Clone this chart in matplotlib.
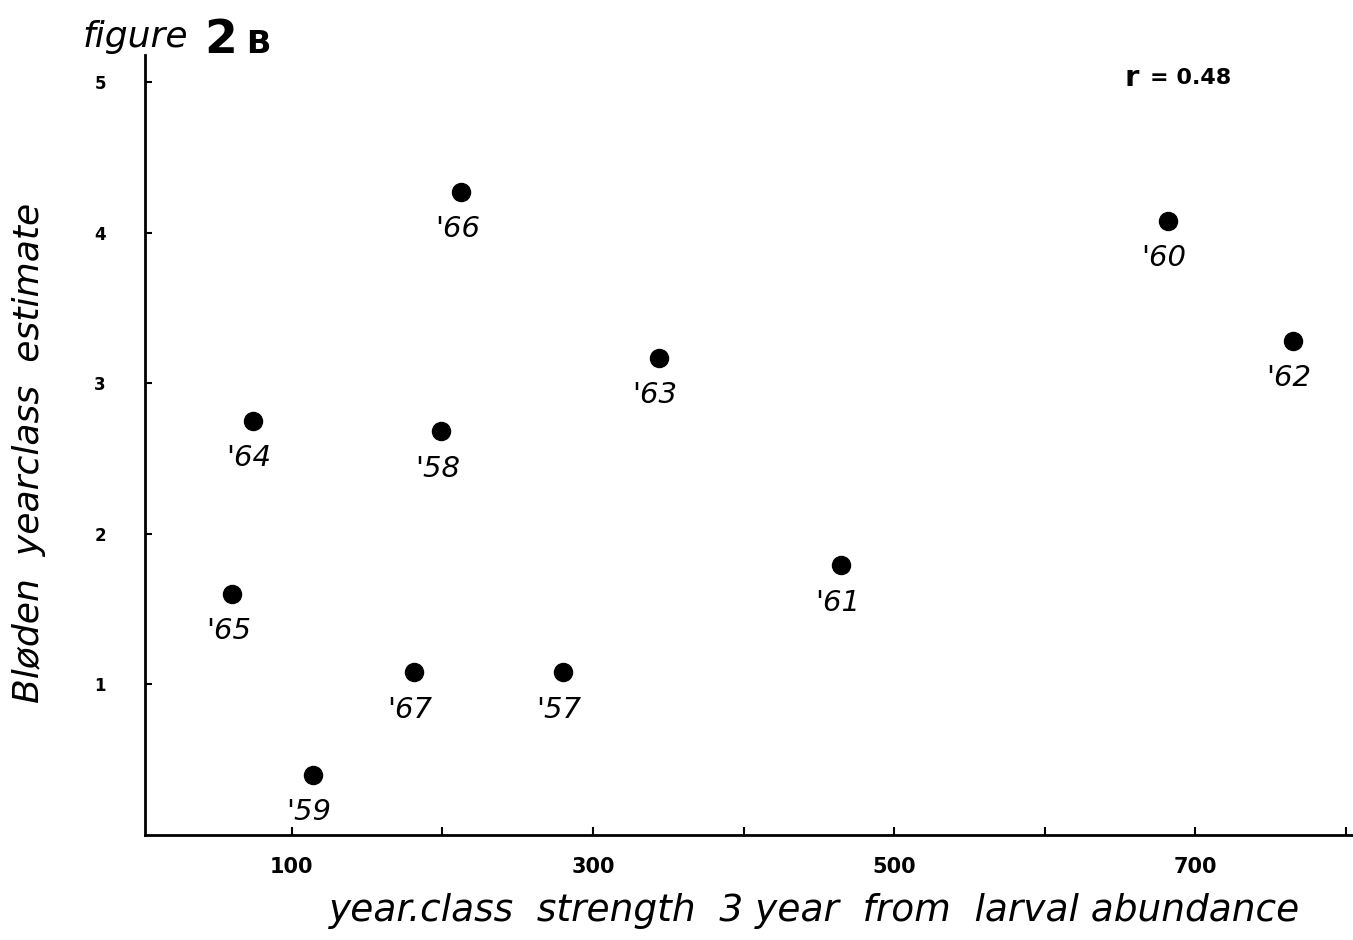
import matplotlib
matplotlib.use("Agg")
import matplotlib.pyplot as plt

# ---- data ----
years = ["'66", "'64", "'58", "'65", "'67", "'57", "'59", "'63", "'61", "'60", "'62"]
larval_strength = [212.7, 74.3, 199.4, 60.6, 181.0, 280.1, 114.1, 343.9, 465.0, 681.9, 764.9]
bloden_estimate = [4.27, 2.75, 2.68, 1.60, 1.08, 1.08, 0.40, 3.17, 1.79, 4.08, 3.28]
x_ticks = [100, 200, 300, 400, 500, 600, 700, 800]
x_ticklabels = ["100", "", "300", "", "500", "", "700", ""]
y_ticks = [1, 2, 3, 4, 5]
y_ticklabels = ["1", "2", "3", "4", "5"]

hand = ["DejaVu Sans"]

fig = plt.figure(figsize=(13.53, 9.4), dpi=100)
ax = fig.add_axes([0.107, 0.112, 0.892, 0.8295])

ax.plot(larval_strength, bloden_estimate, 'o', color='black', markersize=13, clip_on=False)
for xv, yv, lab in zip(larval_strength, bloden_estimate, years):
    ax.annotate(lab, (xv, yv), xytext=(-3, -27), textcoords='offset points',
                ha='center', va='center', fontsize=21, style='italic', family=hand)

ax.set_xlim(2.4, 803.8)
ax.set_ylim(0, 5.18)
for s in ['top', 'right']:
    ax.spines[s].set_visible(False)
for s in ['left', 'bottom']:
    ax.spines[s].set_linewidth(2.0)

ax.set_xticks(x_ticks)
ax.set_xticklabels(x_ticklabels, fontsize=15, fontweight='bold')
ax.set_yticks(y_ticks)
ax.set_yticklabels(y_ticklabels, fontsize=12, fontweight='bold')
ax.tick_params(axis='x', direction='in', length=6, width=1.5, pad=16)
ax.tick_params(axis='y', direction='in', length=5, width=1.5, pad=28)

ax.set_xlabel("year.class  strength  3 year  from  larval abundance",
              fontsize=27, style='italic', family=hand)
ax.xaxis.set_label_coords(0.555, -0.075)
ax.set_ylabel("Bløden  yearclass  estimate", fontsize=26, style='italic', family=hand)
ax.yaxis.set_label_coords(-0.082, 0.49)

fig.text(0.061, 0.950, "figure", fontsize=26, style='italic', family=hand, va='baseline')
fig.text(0.151, 0.944, "2", fontsize=34, fontweight='bold', va='baseline')
fig.text(0.182, 0.944, "B", fontsize=23, fontweight='bold', va='baseline')

ax.text(0.812, 0.970, "r", transform=ax.transAxes, fontsize=21, fontweight='bold', va='center')
ax.text(0.833, 0.970, "= 0.48", transform=ax.transAxes, fontsize=16, fontweight='bold', va='center')

fig.savefig("out.png", dpi=100)
